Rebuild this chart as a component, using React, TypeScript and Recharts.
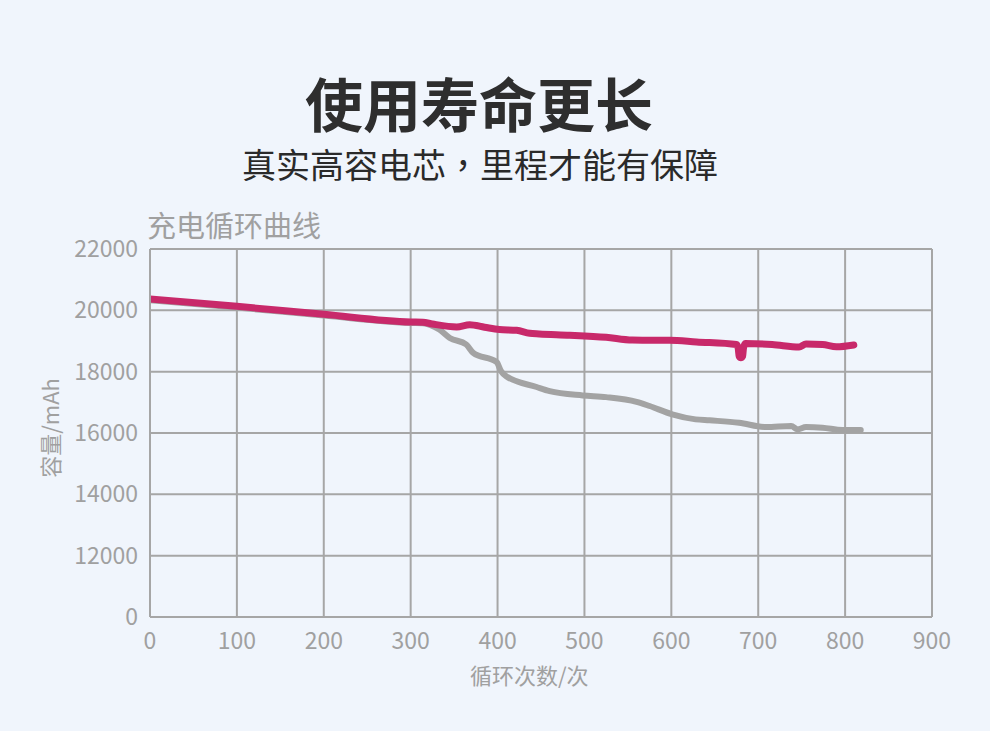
import React from 'react'
import { LineChart, Line, XAxis, YAxis, CartesianGrid } from 'recharts'

// y axis is not linear: 0 then 12000..22000 in equal steps
const yTickLabels = ['0', '12000', '14000', '16000', '18000', '20000', '22000']
const xTicks = [0, 100, 200, 300, 400, 500, 600, 700, 800, 900]

const redCycles = [0, 100, 200, 300, 314, 325, 353, 368, 385, 402, 422, 437, 448, 483, 525, 555, 598, 629, 675, 677, 678, 680, 682, 683, 685, 716, 747, 755, 774, 790, 810]
const redCapacity = [20370, 20130, 19870, 19620, 19610, 19555, 19460, 19530, 19450, 19375, 19350, 19250, 19230, 19190, 19120, 19030, 19025, 18970, 18885, 18760, 18500, 18450, 18500, 18760, 18915, 18885, 18805, 18900, 18885, 18810, 18870]

const greyCycles = [0, 100, 200, 300, 314, 333, 345, 364, 372, 399, 404, 410, 445, 460, 498, 525, 560, 575, 601, 628, 644, 678, 709, 738, 745, 755, 774, 797, 818]
const greyCapacity = [20330, 20090, 19830, 19590, 19580, 19372, 19100, 18885, 18610, 18310, 18016, 17850, 17500, 17366, 17225, 17170, 17017, 16880, 16610, 16445, 16413, 16335, 16195, 16228, 16120, 16195, 16173, 16098, 16100]

const toAxis = (v: number) => (v < 12000 ? v / 12000 : (v - 10000) / 2000)

const redData = redCycles.map((c, i) => ({ cycle: c, y: toAxis(redCapacity[i]) }))
const greyData = greyCycles.map((c, i) => ({ cycle: c, y: toAxis(greyCapacity[i]) }))

const FONT = '"Noto Sans CJK SC", "Noto Sans", sans-serif'
const GRID = '#a6a6a6'
const TEXT = '#a0a0a0'

export default function App() {
  return (
    <div style={{ position: 'absolute', left: 0, top: 0, width: 990, height: 731, background: '#f0f5fc', fontFamily: FONT, overflow: 'hidden' }}>
      <div style={{ position: 'absolute', left: 0, top: 73, width: 958, textAlign: 'center', fontSize: 58, lineHeight: 1, fontWeight: 700, color: '#2e2e2e' }}>
        使用寿命更长
      </div>
      <div style={{ position: 'absolute', left: 0, top: 147, width: 960, textAlign: 'center', fontSize: 34, lineHeight: 1, color: '#2a2a2a' }}>
        真实高容电芯<span style={{ fontFamily: '"Noto Sans CJK TC", sans-serif' }}>，</span>里程才能有保障
      </div>
      <div style={{ position: 'absolute', left: 147, top: 210, fontSize: 29, lineHeight: 1, color: TEXT }}>
        充电循环曲线
      </div>
      <div style={{ position: 'absolute', left: 49, top: 428, fontSize: 22, lineHeight: 1, color: TEXT, transform: 'translate(-50%, -50%) rotate(-90deg)', whiteSpace: 'nowrap' }}>
        容量/mAh
      </div>
      <div style={{ position: 'absolute', left: 470, top: 663, fontSize: 22, lineHeight: 1, color: TEXT }}>
        循环次数/次
      </div>
      <div style={{ position: 'absolute', left: 0, top: 0 }}>
        <LineChart width={990} height={731} margin={{ top: 249, right: 58, bottom: 84, left: 90 }}>
          <CartesianGrid stroke={GRID} strokeWidth={2} />
          <XAxis
            type="number"
            dataKey="cycle"
            domain={[0, 900]}
            ticks={xTicks}
            height={30}
            axisLine={{ stroke: GRID, strokeWidth: 2 }}
            tickLine={false}
            tickSize={0}
            tickMargin={16}
            tick={{ fill: TEXT, fontSize: 23, fontFamily: FONT }}
            allowDataOverflow
          />
          <YAxis
            type="number"
            dataKey="y"
            domain={[0, 6]}
            ticks={[0, 1, 2, 3, 4, 5, 6]}
            tickFormatter={(i: number) => yTickLabels[i]}
            width={60}
            axisLine={{ stroke: GRID, strokeWidth: 2 }}
            tickLine={false}
            tickSize={0}
            tickMargin={12}
            tick={{ fill: TEXT, fontSize: 23, fontFamily: FONT }}
          />
          <Line data={greyData} dataKey="y" type="monotone" stroke="#a3a3a3" strokeWidth={6} dot={false} strokeLinecap="round" strokeLinejoin="round" isAnimationActive={false} />
          <Line data={redData} dataKey="y" type="monotone" stroke="#c8296a" strokeWidth={7} dot={false} strokeLinecap="round" strokeLinejoin="round" isAnimationActive={false} />
        </LineChart>
      </div>
    </div>
  )
}
